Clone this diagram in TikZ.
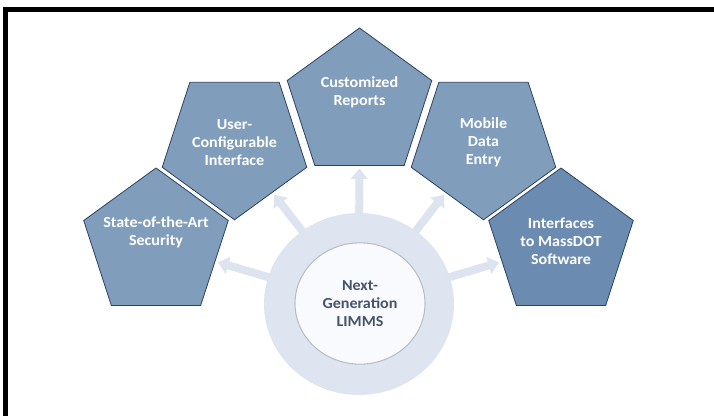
\documentclass[tikz,border=0pt]{standalone}
\usepackage{fontspec}
\setmainfont{Carlito}[FakeStretch=1.05]
\usetikzlibrary{shapes.geometric,arrows.meta}

\tikzset{every picture/.style={line width=0.75pt}}
\tikzset{
  pent/.style={regular polygon, regular polygon sides=5, minimum size=114pt, inner sep=0pt,
    draw={rgb, 255:red, 44; green, 66; blue, 100 }, line width=0.6pt,
    fill={rgb, 255:red, 128; green, 157; blue, 187 }},
  pentdown/.style={pent, shape border rotate=180},
  penttxt/.style={inner sep=0.75pt, align=center, text=white,
    font=\fontsize{11.5}{13.3}\selectfont\bfseries},
  spoke/.style={draw={rgb, 255:red, 221; green, 227; blue, 239 }, line width=6pt,
    -{Triangle[width=13pt,length=8pt]}, shorten <=-3pt, shorten >=2pt}
}

\begin{document}
\begin{tikzpicture}[x=0.75pt,y=0.75pt,yscale=-1,xscale=1]
		\useasboundingbox (0,0) rectangle (714,416);
		
		%Frame
		\draw [line width=3.5pt]  (5.7,416) -- (5.7,9.7) -- (714,9.7) ;
		
		%Shape: Pentagons
		\node [pent] (sec) at (156,244) {};
		\node [pentdown] (ucf) at (234.5,143.8) {};
		\node [pent] (rep) at (359.5,104) {};
		\node [pentdown] (mob) at (483.5,143.8) {};
		\node [pent, fill={rgb, 255:red, 108; green, 139; blue, 176 }] (mdot) at (561,244) {};
		
		\node [penttxt] (sec-t) at ([yshift=-9pt]sec.center) {State-of-the-Art\\Security};
		\node [penttxt] (ucf-t) at ([yshift=-1pt]ucf.center) {User-\\Configurable\\Interface};
		\node [penttxt] (rep-t) at ([yshift=-9pt]rep.center) {Customized\\Reports};
		\node [penttxt] (mob-t) at ([yshift=-1pt]mob.center) {Mobile\\Data\\Entry};
		\node [penttxt] (mdot-t) at ([yshift=-2pt]mdot.center) {Interfaces\\to MassDOT\\Software};
		
		%Shape: Hub
		\node [ellipse, minimum width=142.5pt, minimum height=136.5pt, inner sep=0pt,
		  fill={rgb, 255:red, 222; green, 228; blue, 240 }] (ring) at (359,304) {};
		
		%Spokes
		\draw [spoke] (ring) -- (sec) ;
		\draw [spoke] (ring) -- (ucf) ;
		\draw [spoke] (ring) -- (rep) ;
		\draw [spoke] (ring) -- (mob) ;
		\draw [spoke] (ring) -- (mdot) ;
		
		\node [ellipse, minimum width=97.5pt, minimum height=91pt, inner sep=0pt,
		  draw={rgb, 255:red, 185; green, 190; blue, 198 }, line width=0.8pt,
		  fill={rgb, 255:red, 249; green, 250; blue, 253 }] (core) at (360,303.5) {};
		\node [penttxt, text={rgb, 255:red, 68; green, 84; blue, 106 }] (core-t) at (core.center) {Next-\\Generation\\LIMMS};
		
	\end{tikzpicture}
\end{document}
